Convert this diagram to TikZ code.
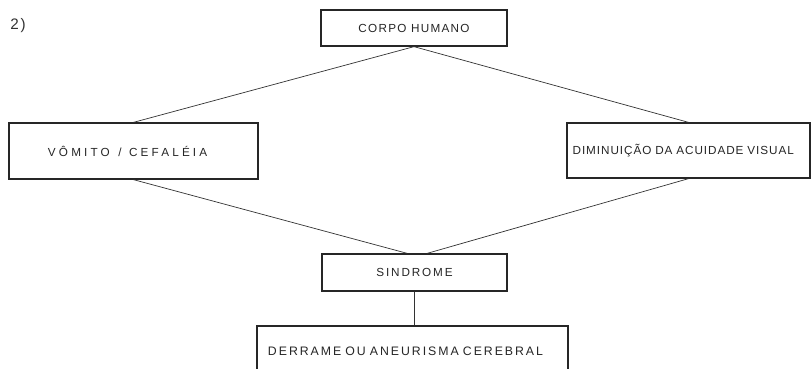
\documentclass[tikz,border=0pt]{standalone}
\usepackage{fontspec}
\newfontfamily\boxfont[LetterSpace=16]{Liberation Sans}
\newfontfamily\midfont[LetterSpace=11]{Liberation Sans}
\newfontfamily\widefont[LetterSpace=27]{Liberation Sans}
\newfontfamily\tightfont[LetterSpace=8]{Liberation Sans}
\usetikzlibrary{positioning,calc}

\begin{document}
\begin{tikzpicture}[
  x=0.03cm, y=-0.03cm,
  box/.style={draw=black!85, line width=1.1pt, fill=white, inner sep=0pt, text=black!85, font=\boxfont\fontsize{10}{12}\selectfont},
  link/.style={draw=black!80, line width=0.6pt},
  lbl/.style={font=\midfont\fontsize{13}{15}\selectfont, text=black!80}
]
  \clip (0,0) rectangle (812,369);
  \fill[white] (0,0) rectangle (812,369);

  % Draw boxes
  \node[box, minimum width=5.58cm, minimum height=1.08cm, font=\midfont\fontsize{10}{12}\selectfont] (corpo) at (414,28) {CORPO HUMANO};
  \node[box, minimum width=7.47cm, minimum height=1.68cm, text width=5.13cm, inner xsep=1.17cm, align=left, font=\widefont\fontsize{10}{12}\selectfont] (vomito) at (133.5,151) {VÔMITO\hspace{4pt} / \hspace{3pt}CEFALÉIA};
  \node[box, minimum width=7.29cm, minimum height=1.65cm, text width=6.95cm, inner xsep=0.17cm, align=left, font=\tightfont\fontsize{10}{12}\selectfont] (visao) at (688.5,150.5) {DIMINUIÇÃO DA ACUIDADE VISUAL};
  \node[box, minimum width=5.55cm, minimum height=1.11cm] (sindrome) at (414.5,272.5) {SINDROME};
  \node[box, minimum width=9.33cm, minimum height=1.5cm, text width=8.67cm, inner xsep=0.33cm, align=left, font=\boxfont\fontsize{10.5}{12}\selectfont] (derrame) at (412.5,351) {DERRAME OU ANEURISMA CEREBRAL};

  % Draw connections
  \draw[link] (corpo.south) -- (vomito.north);
  \draw[link] (corpo.south) -- (visao.north);
  \draw[link] (vomito.south) -- ([xshift=-0.22cm]sindrome.north);
  \draw[link] (visao.south) -- ([xshift=0.38cm]sindrome.north);
  \draw[link] (sindrome.south) -- (sindrome.south |- derrame.north);

  % Item number
  \node[lbl] (num) at (18,26) {2)};
\end{tikzpicture}
\end{document}
